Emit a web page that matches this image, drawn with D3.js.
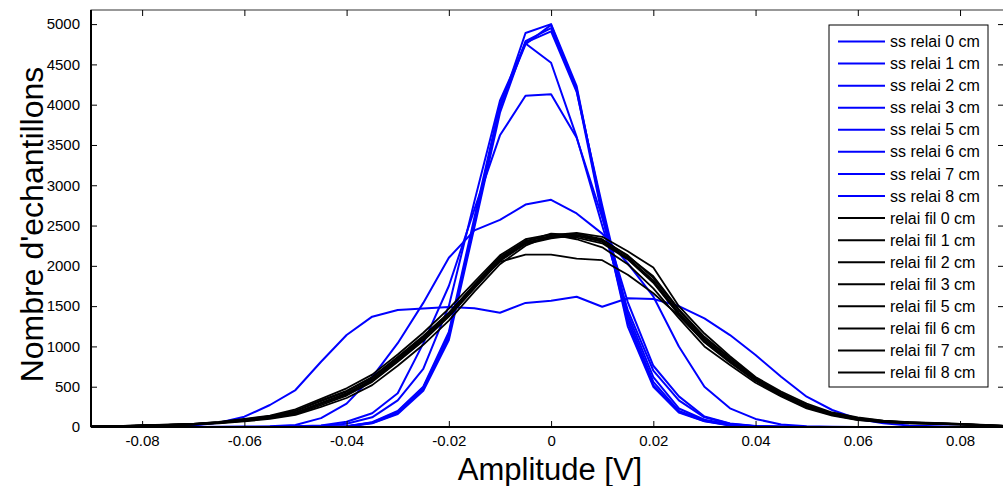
<!DOCTYPE html>
<html><head><meta charset="utf-8">
<script src="https://cdn.jsdelivr.net/npm/d3@7"></script>
<style>
html,body{margin:0;padding:0;background:#fff;}
svg{display:block;font-family:"Liberation Sans",Arial,sans-serif;}
</style></head>
<body>
<svg id="chart" width="1003" height="486"></svg>
<script>
// ---- data ----
const amplitudes = [-0.09,-0.085,-0.08,-0.075,-0.07,-0.065,-0.06,-0.055,-0.05,-0.045,-0.04,-0.035,-0.03,-0.025,-0.02,-0.015,-0.01,-0.005,0,0.005,0.01,0.015,0.02,0.025,0.03,0.035,0.04,0.045,0.05,0.055,0.06,0.065,0.07,0.075,0.08,0.085,0.09];

const ssRelai0 = [0,0,0,0,0,0,0,0,0,2,8,50,170,470,1120,2550,3950,4890,5000,4230,2650,1250,500,180,70,20,5,2,0,0,0,0,0,0,0,0,0];
const ssRelai1 = [0,0,0,0,0,0,0,0,0,1,5,45,160,450,1080,2480,3900,4790,4950,4200,2700,1350,560,200,80,25,6,2,0,0,0,0,0,0,0,0,0];
const ssRelai2 = [0,0,0,0,0,0,0,0,0,2,10,60,200,500,1180,2600,4000,4770,4910,4160,2750,1400,620,230,90,30,8,2,0,0,0,0,0,0,0,0,0];
const ssRelai3 = [0,0,0,0,0,0,0,0,0,1,6,55,190,490,1150,2520,3980,4750,4990,4180,2620,1300,520,190,75,22,5,1,0,0,0,0,0,0,0,0,0];
const ssRelai5 = [0,0,0,0,0,0,0,0,5,15,40,120,330,720,1500,2800,4050,4760,4520,3600,2500,1450,700,330,120,40,10,3,0,0,0,0,0,0,0,0,0];
const ssRelai6 = [0,0,0,0,0,0,0,3,8,20,66,170,418,1038,1750,2700,3620,4110,4130,3590,2600,1550,760,380,130,45,12,4,0,0,0,0,0,0,0,0,0];
const ssRelai7 = [0,0,0,0,0,2,5,10,25,110,290,620,1040,1540,2100,2440,2570,2760,2820,2650,2400,2030,1620,1000,500,232,100,30,8,3,0,0,0,0,0,0,0];
const ssRelai8 = [0,2,5,10,20,53,128,273,459,810,1141,1369,1452,1472,1490,1475,1418,1540,1567,1617,1493,1597,1588,1501,1348,1141,893,624,376,211,100,45,20,8,3,1,0];

const relaiFil0 = [5,8,15,22,30,45,70,100,150,250,360,520,760,1020,1320,1680,2020,2250,2380,2410,2360,2180,1980,1500,1160,880,620,440,290,180,120,80,60,50,40,25,12];
const relaiFil1 = [6,10,18,26,38,60,95,135,200,330,450,620,870,1130,1420,1760,2050,2140,2140,2090,2070,1890,1660,1380,1060,820,590,410,260,160,100,70,55,45,35,20,10];
const relaiFil2 = [4,9,17,24,33,52,80,115,170,290,410,580,830,1090,1390,1740,2090,2300,2400,2380,2300,2090,1800,1400,1060,820,580,400,250,150,90,60,45,38,30,18,8];
const relaiFil3 = [5,11,20,28,38,58,90,128,200,320,440,610,860,1120,1410,1770,2110,2310,2370,2350,2280,2080,1790,1390,1050,800,570,390,240,150,95,65,50,40,32,18,9];
const relaiFil5 = [4,8,16,23,32,50,75,110,160,270,390,560,810,1070,1370,1720,2060,2270,2340,2380,2320,2130,1850,1450,1100,850,610,420,270,170,105,72,56,46,36,22,11];
const relaiFil6 = [6,12,22,30,40,62,100,140,220,350,480,650,900,1170,1470,1800,2130,2330,2390,2330,2230,2020,1720,1350,1000,770,550,380,230,140,85,60,48,40,32,18,9];
const relaiFil7 = [5,10,18,25,35,55,85,120,180,300,420,590,840,1100,1400,1750,2080,2280,2360,2370,2300,2100,1820,1420,1080,830,590,410,260,160,100,70,55,45,35,20,10];
const relaiFil8 = [5,9,17,25,34,53,82,118,175,290,400,570,820,1080,1380,1730,2070,2290,2350,2400,2330,2120,1870,1460,1120,860,600,420,270,165,110,75,58,48,38,23,11];

const seriesNames = ["ss relai 0 cm","ss relai 1 cm","ss relai 2 cm","ss relai 3 cm","ss relai 5 cm","ss relai 6 cm","ss relai 7 cm","ss relai 8 cm",
  "relai fil 0 cm","relai fil 1 cm","relai fil 2 cm","relai fil 3 cm","relai fil 5 cm","relai fil 6 cm","relai fil 7 cm","relai fil 8 cm"];
const seriesValues = [ssRelai0,ssRelai1,ssRelai2,ssRelai3,ssRelai5,ssRelai6,ssRelai7,ssRelai8,
  relaiFil0,relaiFil1,relaiFil2,relaiFil3,relaiFil5,relaiFil6,relaiFil7,relaiFil8];
const seriesColors = ["#0000ff","#0000ff","#0000ff","#0000ff","#0000ff","#0000ff","#0000ff","#0000ff",
  "#000000","#000000","#000000","#000000","#000000","#000000","#000000","#000000"];

const xTicks = [-0.08,-0.06,-0.04,-0.02,0,0.02,0.04,0.06,0.08];
const yTicks = [0,500,1000,1500,2000,2500,3000,3500,4000,4500,5000];
const xLabel = "Amplitude [V]";
const yLabel = "Nombre d'echantillons";

// ---- layout ----
const L = 91, R = 1004, T = 10, B = 427;
const svg = d3.select("#chart");
const x = d3.scaleLinear().domain([-0.09, 0.0886]).range([L, R]);
const y = d3.scaleLinear().domain([0, 5175]).range([B, T]);

svg.append("defs").append("clipPath").attr("id","clip")
  .append("rect").attr("x",L).attr("y",T).attr("width",R-L).attr("height",B-T);

// lines
const line = d3.line().x((d,i)=>x(amplitudes[i])).y(d=>y(d));
const g = svg.append("g").attr("clip-path","url(#clip)");
seriesValues.forEach((vals,k)=>{
  g.append("path").datum(vals).attr("d",line)
    .attr("fill","none").attr("stroke",seriesColors[k])
    .attr("stroke-width",k<8?2:1.8).attr("stroke-linejoin","round");
});

// axes box
svg.append("rect").attr("x",L).attr("y",T).attr("width",R-L).attr("height",B-T)
  .attr("fill","none").attr("stroke","#333").attr("stroke-width",1);
svg.append("line").attr("x1",L).attr("x2",R).attr("y1",B).attr("y2",B).attr("stroke","#000").attr("stroke-width",2);
svg.append("line").attr("x1",L).attr("x2",L).attr("y1",T).attr("y2",B).attr("stroke","#000").attr("stroke-width",2);

const fmtX = d => d===0 ? "0" : d3.format(".2f")(d).replace("−","-");
const xAxisB = d3.axisBottom(x).tickValues(xTicks).tickSize(-6).tickPadding(8).tickFormat(fmtX);
const xAxisT = d3.axisTop(x).tickValues(xTicks).tickSize(-6).tickFormat("");
const yAxisL = d3.axisLeft(y).tickValues(yTicks).tickSize(-6).tickPadding(11).tickFormat(d3.format("d"));
const yAxisR = d3.axisRight(y).tickValues(yTicks).tickSize(-6).tickFormat("");

function styleAxis(sel){
  sel.select(".domain").remove();
  sel.selectAll(".tick line").attr("stroke","#000").attr("stroke-width",1);
  sel.selectAll("text").attr("fill","#000").style("font-size","15px").style("font-family","'Liberation Sans',Arial,sans-serif");
}
svg.append("g").attr("transform",`translate(0,${B})`).call(xAxisB).call(styleAxis);
svg.append("g").attr("transform",`translate(0,${T})`).call(xAxisT).call(styleAxis);
svg.append("g").attr("transform",`translate(${L},0)`).call(yAxisL).call(styleAxis);
svg.append("g").attr("transform",`translate(${R},0)`).call(yAxisR).call(styleAxis);

// axis labels
svg.append("text").attr("x",550).attr("y",480).attr("text-anchor","middle")
  .style("font-size","31px").attr("fill","#000").text(xLabel);
svg.append("text").attr("transform",`translate(43,${(T+B)/2+6}) rotate(-90)`).attr("text-anchor","middle")
  .style("font-size","32px").attr("fill","#000").text(yLabel);

// legend
const lg = svg.append("g");
lg.append("rect").attr("x",829).attr("y",25).attr("width",159).attr("height",362)
  .attr("fill","#fff").attr("stroke","#000").attr("stroke-width",1);
seriesNames.forEach((name,i)=>{
  const yy = 41.5 + i*22.07;
  lg.append("line").attr("x1",838).attr("x2",885).attr("y1",yy).attr("y2",yy)
    .attr("stroke",seriesColors[i]).attr("stroke-width",2);
  lg.append("text").attr("x",890).attr("y",yy).attr("dy","0.35em")
    .style("font-size","16px").attr("fill","#000").text(name);
});
</script>
</body></html>
